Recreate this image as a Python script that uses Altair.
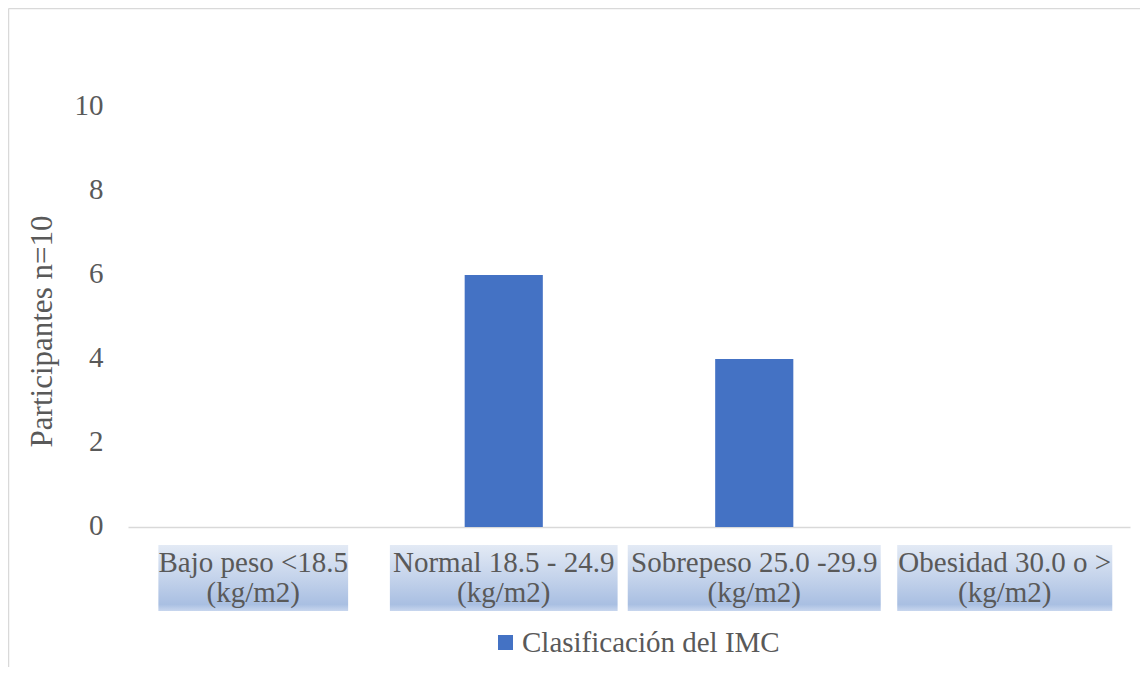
import altair as alt
import pandas as pd

# ---- data ----
categories = [
    "Bajo peso <18.5\n(kg/m2)",
    "Normal 18.5 - 24.9\n(kg/m2)",
    "Sobrepeso 25.0 -29.9\n(kg/m2)",
    "Obesidad 30.0 o >\n(kg/m2)",
]
values = [0, 6, 4, 0]
series_name = "Clasificación del IMC"
y_ticks = [0, 2, 4, 6, 8, 10]
y_title = "Participantes n=10"

# ---- styles ----
FONT = "Liberation Serif"
TXT = "#595959"
BAR = "#4472c4"
LINE = "#d9d9d9"
BAR_HALF = 0.156      # half bar width in category units
CHAR_W = 0.0505       # label box width per character (category units)

df = pd.DataFrame({"cat": categories, "value": values})
df["idx"] = range(len(df))
df["series"] = series_name
df["center"] = df["idx"] + 0.5
df["bar0"] = df["center"] - BAR_HALF
df["bar1"] = df["center"] + BAR_HALF
df["chars"] = df["cat"].apply(lambda s: max(len(l) for l in s.split("\n")))
df["box0"] = df["center"] - df["chars"] * CHAR_W / 2
df["box1"] = df["center"] + df["chars"] * CHAR_W / 2

xscale = alt.Scale(domain=[0, len(categories)], nice=False, zero=False)
xaxis = alt.Axis(labels=False, ticks=False, grid=False, title=None,
                 domainColor=LINE, domainWidth=1.5)

gradient = alt.LinearGradient(
    gradient="linear", x1=0, x2=0, y1=0, y2=1,
    stops=[
        alt.GradientStop(color="#e3eaf5", offset=0),
        alt.GradientStop(color="#c4d3eb", offset=0.5),
        alt.GradientStop(color="#a9bfe2", offset=0.9),
        alt.GradientStop(color="#c8d6ee", offset=1),
    ],
)

boxes = alt.Chart(df).mark_rect(color=gradient).encode(
    x=alt.X("box0:Q", scale=xscale, axis=xaxis),
    x2="box1:Q",
    y=alt.value(438),
    y2=alt.value(504),
)

labels = alt.Chart(df).mark_text(
    font=FONT, fontSize=29, color=TXT, lineBreak="\n",
    baseline="alphabetic", align="center", lineHeight=30,
).encode(
    x=alt.X("center:Q", scale=xscale),
    y=alt.value(465),
    text="cat:N",
)

bars = alt.Chart(df).mark_bar().encode(
    x=alt.X("bar0:Q", scale=xscale, axis=xaxis),
    x2="bar1:Q",
    y=alt.Y(
        "value:Q",
        scale=alt.Scale(domain=[0, 10], nice=False),
        axis=alt.Axis(
            values=y_ticks, title=y_title, grid=False, domain=False, ticks=False,
            labelFont=FONT, labelFontSize=29, labelColor=TXT, labelPadding=25,
            labelOffset=-2,
            titleFont=FONT, titleFontSize=31, titleColor=TXT, titleFontWeight="normal",
            titleAngle=270, titleX=-86, titleY=224, titleAlign="center",
            titleBaseline="middle",
        ),
    ),
    y2=alt.datum(0),
    color=alt.Color(
        "series:N",
        scale=alt.Scale(range=[BAR]),
        legend=alt.Legend(
            title=None, orient="none", legendX=363, legendY=521, padding=0,
            symbolType="square", symbolSize=225, symbolStrokeWidth=0,
            labelFont=FONT, labelFontSize=29, labelColor=TXT, labelOffset=2,
            labelLimit=0,
        ),
    ),
)

frame = pd.DataFrame({"k": [0]})
left_border = alt.Chart(frame).mark_rule(color=LINE, strokeWidth=1.5).encode(
    x=alt.value(-119.5), y=alt.value(-98.5), y2=alt.value(560)
)
top_border = alt.Chart(frame).mark_rule(color=LINE, strokeWidth=1.5).encode(
    x=alt.value(-119.5), x2=alt.value(1012), y=alt.value(-98.5)
)

chart = alt.layer(left_border, top_border, boxes, labels, bars).properties(
    width=1002,
    height=420,
    autosize=alt.AutoSizeParams(type="none"),
    padding={"left": 120, "top": 99, "right": 10, "bottom": 140},
).configure_view(stroke=None)

chart.save("out.html", embed_options={"renderer": "svg", "actions": False})
